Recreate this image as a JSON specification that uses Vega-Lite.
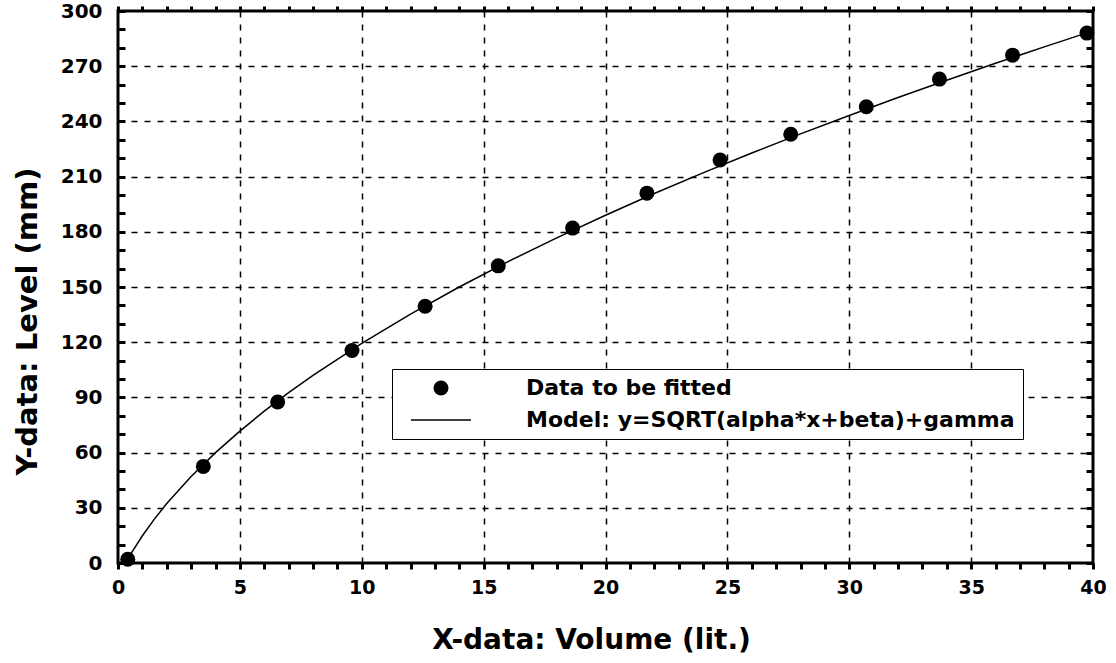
{
  "$schema": "https://vega.github.io/schema/vega-lite/v6.json",
  "autosize": {"type": "none"},
  "padding": {"left": 118, "top": 11, "right": 23, "bottom": 100},
  "width": 975,
  "height": 552,
  "background": "white",
  "config": {
    "view": {"stroke": "black", "strokeWidth": 3},
    "font": "DejaVu Sans"
  },
  "datasets": {
    "pts": [
      {"x": 0.4, "y": 2, "series": "Data to be fitted"},
      {"x": 3.5, "y": 52.5, "series": "Data to be fitted"},
      {"x": 6.55, "y": 87.5, "series": "Data to be fitted"},
      {"x": 9.6, "y": 115.5, "series": "Data to be fitted"},
      {"x": 12.6, "y": 139.5, "series": "Data to be fitted"},
      {"x": 15.6, "y": 161.5, "series": "Data to be fitted"},
      {"x": 18.65, "y": 182, "series": "Data to be fitted"},
      {"x": 21.7, "y": 201, "series": "Data to be fitted"},
      {"x": 24.7, "y": 219, "series": "Data to be fitted"},
      {"x": 27.6, "y": 233, "series": "Data to be fitted"},
      {"x": 30.7, "y": 248, "series": "Data to be fitted"},
      {"x": 33.7, "y": 263, "series": "Data to be fitted"},
      {"x": 36.7, "y": 276, "series": "Data to be fitted"},
      {"x": 39.75, "y": 288, "series": "Data to be fitted"}
    ],
    "model": [
      {"x": 0.3, "y": 0},
      {"x": 0.5, "y": 4.4},
      {"x": 1, "y": 14.8},
      {"x": 1.5, "y": 24},
      {"x": 2, "y": 32.3},
      {"x": 3, "y": 47},
      {"x": 4, "y": 60},
      {"x": 5, "y": 71.7},
      {"x": 6, "y": 82.5},
      {"x": 7, "y": 92.6},
      {"x": 8, "y": 102},
      {"x": 10, "y": 119.4},
      {"x": 12, "y": 135.3},
      {"x": 14, "y": 150},
      {"x": 16, "y": 163.8},
      {"x": 18, "y": 176.7},
      {"x": 20, "y": 189},
      {"x": 22, "y": 200.8},
      {"x": 24, "y": 212},
      {"x": 26, "y": 222.8},
      {"x": 28, "y": 233.2},
      {"x": 30, "y": 243.2},
      {"x": 32, "y": 253},
      {"x": 34, "y": 262.4},
      {"x": 36, "y": 271.6},
      {"x": 38, "y": 280.5},
      {"x": 40, "y": 289.2}
    ]
  },
  "layer": [
    {
      "data": {"name": "pts"},
      "mark": {"type": "point", "filled": true, "color": "black", "opacity": 1, "size": 225},
      "encoding": {
        "x": {
          "field": "x", "type": "quantitative",
          "scale": {"domain": [0, 40], "nice": false, "zero": false},
          "axis": {
            "orient": "bottom",
            "values": [0,1,2,3,4,5,6,7,8,9,10,11,12,13,14,15,16,17,18,19,20,21,22,23,24,25,26,27,28,29,30,31,32,33,34,35,36,37,38,39,40],
            "labelExpr": "datum.value % 5 === 0 ? datum.label : ''",
            "labelFlush": false,
            "labelOverlap": false,
            "grid": true,
            "gridColor": "black",
            "gridDash": [6, 7],
            "gridWidth": 1.5,
            "gridOpacity": {"condition": {"test": "datum.value % 5 === 0 && datum.value > 0 && datum.value < 40", "value": 1}, "value": 0},
            "domain": false,
            "ticks": true,
            "tickColor": "black",
            "tickWidth": 3,
            "tickSize": 6,
            "labelFont": "DejaVu Sans",
            "labelFontWeight": "bold",
            "labelFontSize": 19,
            "labelColor": "black",
            "labelPadding": 9,
            "title": "X-data: Volume (lit.)",
            "titleFont": "DejaVu Sans",
            "titleFontWeight": "bold",
            "titleFontSize": 28,
            "titleColor": "black",
            "titlePadding": 29,
            "titleX": 473
          }
        },
        "y": {
          "field": "y", "type": "quantitative",
          "scale": {"domain": [0, 300], "nice": false, "zero": false},
          "axis": {
            "orient": "left",
            "offset": -7,
            "values": [0,10,20,30,40,50,60,70,80,90,100,110,120,130,140,150,160,170,180,190,200,210,220,230,240,250,260,270,280,290,300],
            "labelExpr": "datum.value % 30 === 0 ? datum.label : ''",
            "labelOverlap": false,
            "labelFlush": false,
            "grid": true,
            "gridColor": "black",
            "gridDash": [6, 7],
            "gridWidth": 1.5,
            "gridOpacity": {"condition": {"test": "datum.value % 30 === 0 && datum.value > 0 && datum.value < 300", "value": 1}, "value": 0},
            "domain": false,
            "ticks": true,
            "tickColor": "black",
            "tickWidth": 3,
            "tickSize": 7,
            "labelFont": "DejaVu Sans",
            "labelFontWeight": "bold",
            "labelFontSize": 20,
            "labelColor": "black",
            "labelPadding": 16,
            "title": "Y-data: Level (mm)",
            "titleFont": "DejaVu Sans",
            "titleFontWeight": "bold",
            "titleFontSize": 29,
            "titleColor": "black",
            "titlePadding": 18,
            "titleY": 310
          }
        },
        "shape": {
          "field": "series", "type": "nominal",
          "scale": {"domain": ["Data to be fitted", "Model: y=SQRT(alpha*x+beta)+gamma"], "range": ["circle", "M-4,-0.1H4V0.1H-4Z"]},
          "legend": {
            "title": null,
            "orient": "none",
            "legendX": 274,
            "legendY": 358,
            "strokeColor": "black",
            "fillColor": "white",
            "padding": 8,
            "symbolOffset": 30,
            "symbolSize": 225,
            "symbolFillColor": "black",
            "symbolStrokeColor": "black",
            "symbolStrokeWidth": 0,
            "labelFont": "DejaVu Sans",
            "labelFontWeight": "bold",
            "labelFontSize": 22,
            "labelColor": "black",
            "labelLimit": 1000,
            "labelOffset": 74,
            "rowPadding": 10,
            "encode": {
              "legend": {"update": {"strokeWidth": {"value": 1.5}}}
            }
          }
        }
      }
    },
    {
      "data": {"name": "model"},
      "mark": {"type": "line", "color": "black", "strokeWidth": 1.5},
      "encoding": {
        "x": {
          "field": "x", "type": "quantitative",
          "axis": {
            "orient": "top",
            "values": [0,1,2,3,4,5,6,7,8,9,10,11,12,13,14,15,16,17,18,19,20,21,22,23,24,25,26,27,28,29,30,31,32,33,34,35,36,37,38,39,40],
            "labels": false,
            "grid": false,
            "domain": false,
            "ticks": true,
            "tickColor": "black",
            "tickWidth": 3,
            "tickSize": 5,
            "title": null
          }
        },
        "y": {
          "field": "y", "type": "quantitative",
          "axis": {
            "orient": "right",
            "offset": -7,
            "values": [0,10,20,30,40,50,60,70,80,90,100,110,120,130,140,150,160,170,180,190,200,210,220,230,240,250,260,270,280,290,300],
            "labels": false,
            "grid": false,
            "domain": false,
            "ticks": true,
            "tickColor": "black",
            "tickWidth": 3,
            "tickSize": 7,
            "title": null
          }
        }
      }
    }
  ],
  "resolve": {"axis": {"x": "independent", "y": "independent"}}
}
